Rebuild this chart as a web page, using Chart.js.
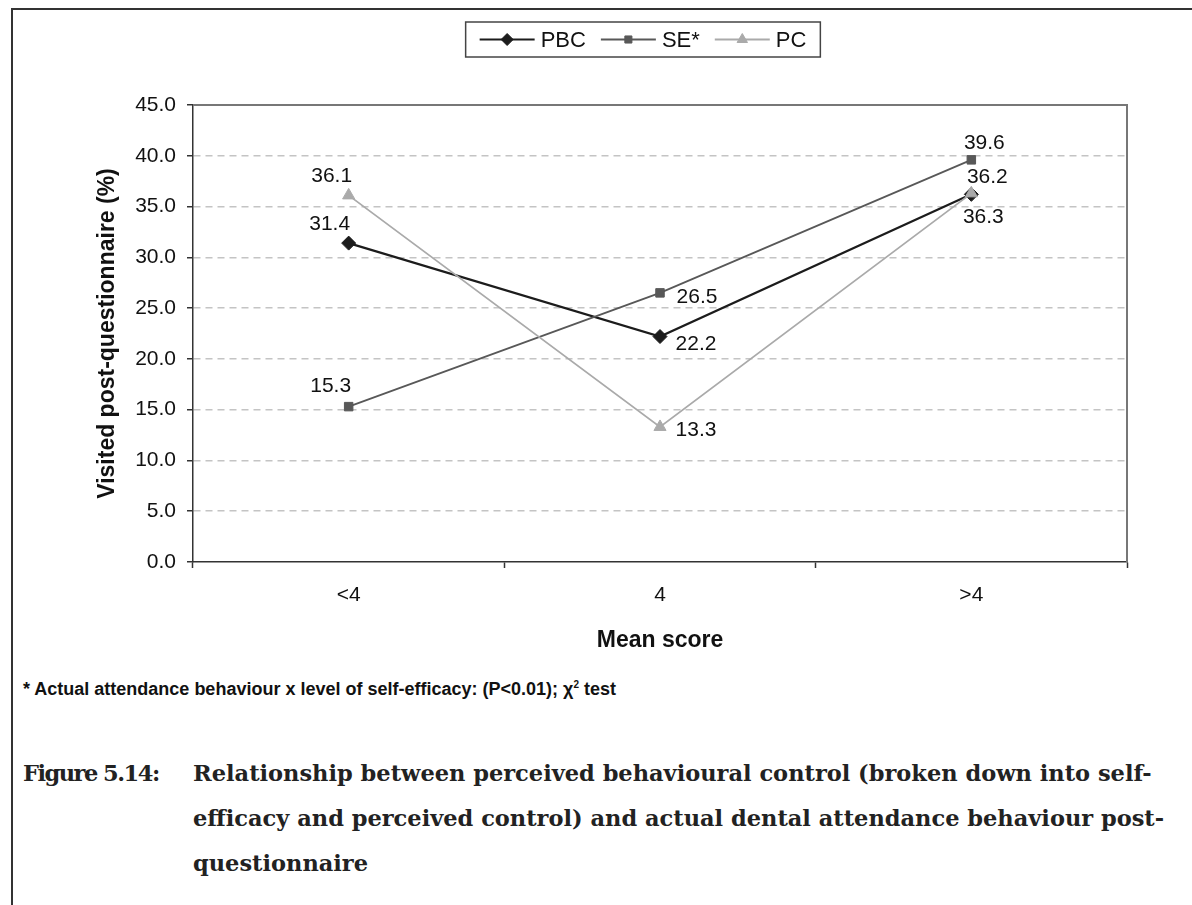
<!DOCTYPE html>
<html>
<head>
<meta charset="utf-8">
<script src="https://cdn.jsdelivr.net/npm/chart.js@4/dist/chart.umd.min.js"></script>
<style>
  body { margin: 0; background: #fff; width: 1192px; height: 905px; overflow: hidden; position: relative; }
  #frameTop { position: absolute; left: 11px; top: 8px; width: 1181px; height: 2px; background: #333; }
  #frameLeft { position: absolute; left: 11px; top: 8px; width: 2px; height: 897px; background: #333; }
  #wrap { position: absolute; left: 0; top: 0; width: 1192px; height: 660px; }
  #note { position: absolute; left: 23px; top: 679px; font: bold 18px "Liberation Sans", Arial, sans-serif; color: #111; white-space: nowrap; }
  #note sup { font-size: 10px; }
  .cap { position: absolute; font: bold 22.5px "DejaVu Serif", serif; color: #222; white-space: nowrap; }
</style>
</head>
<body>
<div id="frameTop"></div>
<div id="frameLeft"></div>
<div id="wrap"><canvas id="chart"></canvas></div>
<div id="note">* Actual attendance behaviour x level of self-efficacy: (P&lt;0.01); χ<sup>2</sup> test</div>
<div class="cap" style="left:23px; top:760px; letter-spacing:-1.5px;">Figure 5.14:</div>
<div class="cap" style="left:193px; top:760px;">Relationship between perceived behavioural control (broken down into self-</div>
<div class="cap" style="left:193px; top:805px;">efficacy and perceived control) and actual dental attendance behaviour post-</div>
<div class="cap" style="left:193px; top:850px;">questionnaire</div>
<script>
// data
const categories = ['<4', '4', '>4'];
const pbc = [31.4, 22.2, 36.2];
const se = [15.3, 26.5, 39.6];
const pc = [36.1, 13.3, 36.3];
const seriesNames = ['PBC', 'SE*', 'PC'];
const yTicks = [0, 5, 10, 15, 20, 25, 30, 35, 40, 45];

// where each value label sits relative to its point (dx, dy)
const labelOffsets = [
  [[-19, -19], [36, 8], [16, -17]],
  [[-18, -20], [37, 4], [13, -17]],
  [[-17, -19], [36, 3], [12, 24]]
];

const FONT = '"Liberation Sans", Arial, sans-serif';

const valueLabels = {
  id: 'valueLabels',
  afterDatasetsDraw(chart) {
    const ctx = chart.ctx;
    ctx.save();
    ctx.font = '21px ' + FONT;
    ctx.fillStyle = '#111';
    ctx.textAlign = 'center';
    ctx.textBaseline = 'middle';
    chart.data.datasets.forEach((ds, i) => {
      chart.getDatasetMeta(i).data.forEach((pt, j) => {
        const off = labelOffsets[i][j];
        ctx.fillText(ds.data[j].toFixed(1), pt.x + off[0], pt.y + off[1]);
      });
    });
    ctx.restore();
  }
};

// grey frame on top and right of the plot area
const plotFrame = {
  id: 'plotFrame',
  beforeDatasetsDraw(chart) {
    const { ctx, chartArea: a } = chart;
    ctx.save();
    ctx.strokeStyle = '#777';
    ctx.lineWidth = 2;
    ctx.beginPath();
    ctx.moveTo(a.left, a.top);
    ctx.lineTo(a.right, a.top);
    ctx.lineTo(a.right, a.bottom);
    ctx.stroke();
    ctx.restore();
  }
};

// boxed legend with line + marker samples
const boxLegend = {
  id: 'boxLegend',
  afterDraw(chart) {
    const ctx = chart.ctx;
    const dss = chart.data.datasets;
    const lineLen = 55, pad = 14, gap = 6, sep = 15;
    ctx.save();
    ctx.font = '22px ' + FONT;
    const widths = dss.map(d => ctx.measureText(d.label).width);
    let total = pad * 2;
    widths.forEach((w, i) => { total += lineLen + gap + w + (i < widths.length - 1 ? sep : 0); });
    const cx = 643, top = 22, h = 35;
    let x = cx - total / 2;
    ctx.strokeStyle = '#444';
    ctx.lineWidth = 1.5;
    ctx.strokeRect(x, top, total, h);
    const y = top + h / 2;
    x += pad;
    dss.forEach((d, i) => {
      ctx.strokeStyle = d.borderColor;
      ctx.lineWidth = d.borderWidth;
      ctx.beginPath();
      ctx.moveTo(x, y);
      ctx.lineTo(x + lineLen, y);
      ctx.stroke();
      ctx.fillStyle = d.pointBackgroundColor;
      ctx.strokeStyle = d.pointBorderColor;
      ctx.lineWidth = 1;
      Chart.helpers.drawPoint(ctx, { pointStyle: d.pointStyle, radius: d.pointRadius - 1, borderWidth: 1, rotation: 0 }, x + lineLen / 2, y);
      ctx.fillStyle = '#111';
      ctx.textAlign = 'left';
      ctx.textBaseline = 'middle';
      ctx.fillText(d.label, x + lineLen + gap, y + 1);
      x += lineLen + gap + widths[i] + sep;
    });
    ctx.restore();
  }
};

function series(label, data, color, width, style, radius, order) {
  return {
    label, data, order,
    borderColor: color, borderWidth: width,
    pointStyle: style, pointRadius: radius, pointHoverRadius: radius,
    pointBackgroundColor: color, pointBorderColor: color, pointBorderWidth: 1
  };
}

new Chart(document.getElementById('chart'), {
  type: 'line',
  data: {
    labels: categories,
    datasets: [
      series(seriesNames[0], pbc, '#1c1c1c', 2.2, 'rectRot', 7, 2),
      series(seriesNames[1], se, '#585858', 1.8, 'rect', 6, 1),
      series(seriesNames[2], pc, '#aaaaaa', 1.8, 'triangle', 7, 0)
    ]
  },
  options: {
    responsive: true,
    maintainAspectRatio: false,
    animation: false,
    layout: { padding: { top: 105, right: 65, bottom: 6, left: 0 } },
    plugins: {
      legend: { display: false },
      tooltip: { enabled: false }
    },
    scales: {
      x: {
        offset: true,
        grid: { offset: true, drawOnChartArea: false, tickLength: 6, tickColor: '#333', tickWidth: 1.5 },
        border: { color: '#333', width: 1.5 },
        ticks: { font: { size: 21, family: FONT }, color: '#111', padding: 15 },
        title: { display: true, text: 'Mean score', font: { size: 23, weight: 'bold', family: FONT }, color: '#111', padding: { top: 17, bottom: 0 } },
        afterFit(scale) { scale.height = 92; }
      },
      y: {
        min: 0,
        max: 45,
        afterBuildTicks(scale) { scale.ticks = yTicks.map(v => ({ value: v })); },
        grid: {
          color: ctx => (ctx.tick && (ctx.tick.value === 0 || ctx.tick.value === 45)) ? 'rgba(0,0,0,0)' : '#c4c4c4',
          lineWidth: 1.5,
          tickLength: 6, tickColor: '#333', tickWidth: 1.5
        },
        border: { color: '#333', width: 1.5, dash: [7, 5] },
        ticks: { font: { size: 21, family: FONT }, color: '#111', padding: 11, callback: v => Number(v).toFixed(1) },
        title: { display: true, text: 'Visited post-questionnaire (%)', font: { size: 23, weight: 'bold', family: FONT }, color: '#111', padding: { top: 94, bottom: 0 } },
        afterFit(scale) { scale.width = 193; }
      }
    }
  },
  plugins: [plotFrame, valueLabels, boxLegend]
});
</script>
</body>
</html>
